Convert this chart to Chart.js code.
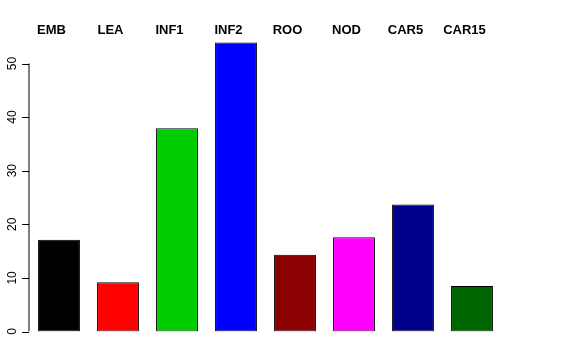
<!DOCTYPE html>
<html>
<head>
<meta charset="utf-8">
<script src="https://cdn.jsdelivr.net/npm/chart.js@4/dist/chart.umd.min.js"></script>
<style>
  html, body { margin: 0; padding: 0; background: #fff; }
  #wrap { width: 576px; height: 360px; }
</style>
</head>
<body>
<div id="wrap"><canvas id="chart"></canvas></div>
<script>
const categories = ['EMB', 'LEA', 'INF1', 'INF2', 'ROO', 'NOD', 'CAR5', 'CAR15'];
const counts = [17.1, 9.2, 37.9, 53.9, 14.3, 17.6, 23.7, 8.5];
const barColors = ['#000000', '#ff0000', '#00cd00', '#0000ff', '#8b0000', '#ff00ff', '#00008b', '#006400'];
const yTicks = [0, 10, 20, 30, 40, 50];

// R-style axis: line only over the tick range, rotated labels, names on top
const rAxis = {
    id: 'rAxis',
    afterDraw(chart) {
        const ctx = chart.ctx;
        const x = chart.scales.x;
        const y = chart.scales.y;
        const axX = chart.chartArea.left - 0.5;
        ctx.save();
        ctx.strokeStyle = '#000';
        ctx.lineWidth = 1;
        ctx.beginPath();
        ctx.moveTo(axX, y.getPixelForValue(yTicks[0]));
        ctx.lineTo(axX, y.getPixelForValue(yTicks[yTicks.length - 1]));
        yTicks.forEach(t => {
            const py = Math.round(y.getPixelForValue(t)) + 0.5;
            ctx.moveTo(axX, py);
            ctx.lineTo(axX - 7, py);
        });
        ctx.stroke();

        ctx.fillStyle = '#000';
        ctx.font = '12px "Liberation Sans", Arial, sans-serif';
        ctx.textAlign = 'center';
        ctx.textBaseline = 'middle';
        yTicks.forEach(t => {
            ctx.save();
            ctx.translate(13, y.getPixelForValue(t));
            ctx.rotate(-Math.PI / 2);
            ctx.fillText(String(t), 0, 0);
            ctx.restore();
        });

        ctx.font = 'bold 13px "Liberation Sans", Arial, sans-serif';
        categories.forEach((c, i) => {
            ctx.fillText(c, x.getPixelForValue(i) - 7.5, 30);
        });
        ctx.restore();
    }
};

new Chart(document.getElementById('chart'), {
    type: 'bar',
    data: {
        labels: categories,
        datasets: [{
            data: counts,
            backgroundColor: barColors,
            borderColor: '#000',
            borderWidth: 1,
            borderSkipped: false,
            barPercentage: 0.71,
            categoryPercentage: 1
        }]
    },
    options: {
        responsive: true,
        maintainAspectRatio: false,
        animation: false,
        layout: { padding: { left: 29.5, right: 74.5, top: 36.7, bottom: 28.5 } },
        plugins: { legend: { display: false }, tooltip: { enabled: false } },
        scales: {
            x: { display: false },
            y: { display: false, min: 0, max: 55 }
        }
    },
    plugins: [rAxis]
});
</script>
</body>
</html>
